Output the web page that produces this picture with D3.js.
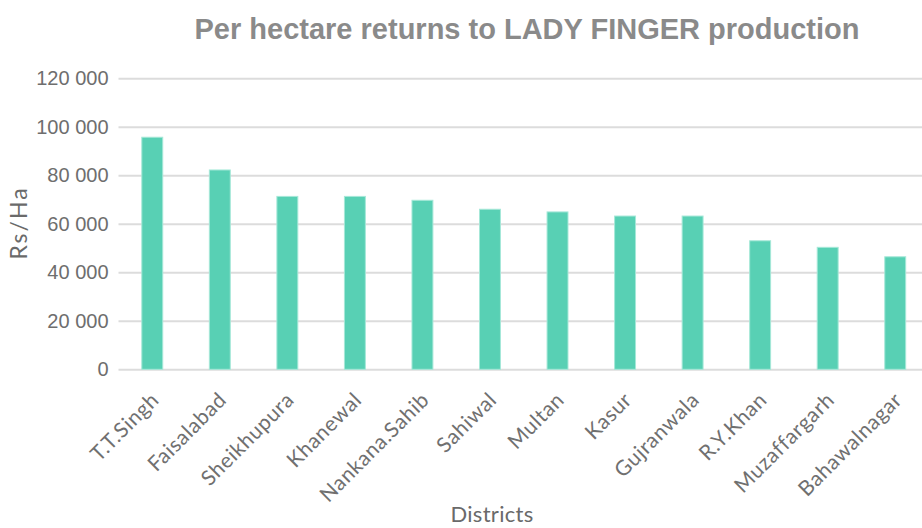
<!DOCTYPE html>
<html>
<head>
<meta charset="utf-8">
<script src="https://cdn.jsdelivr.net/npm/d3@7/dist/d3.min.js"></script>
<style>
  html, body { margin: 0; padding: 0; background: #fff; }
  svg { display: block; }
</style>
</head>
<body>
<svg id="chart" width="922" height="528"></svg>
<script>
// Per-hectare returns (Rs/Ha) for lady finger, by district
const districts = ["T.T.Singh", "Faisalabad", "Sheikhupura", "Khanewal", "Nankana.Sahib",
  "Sahiwal", "Multan", "Kasur", "Gujranwala", "R.Y.Khan", "Muzaffargarh", "Bahawalnagar"];
const returnsRsHa = [95700, 82200, 71300, 71300, 69700, 66000, 64900, 63200, 63200, 53000, 50300, 46400];
const yTicks = [0, 20000, 40000, 60000, 80000, 100000, 120000];

const titleText = "Per hectare returns to LADY FINGER production";
const xTitle = "Districts";
const yTitle = "Rs/Ha";

const svg = d3.select("#chart");
const W = 922, H = 528;
const plot = { left: 118.5, right: 929, top: 78.3, bottom: 369.3 };

const x = d3.scaleBand()
  .domain(districts)
  .range([plot.left, plot.right])
  .paddingInner(0.69)
  .paddingOuter(0.345);

const y = d3.scaleLinear()
  .domain([0, 120000])
  .range([plot.bottom, plot.top]);

const fmt = v => d3.format(",")(v).replace(/,/g, " ");

// horizontal gridlines and y tick labels
const yAxis = d3.axisLeft(y)
  .tickValues(yTicks)
  .tickSize(-(W - plot.left))
  .tickPadding(10)
  .tickFormat(fmt);

const gy = svg.append("g")
  .attr("transform", `translate(${plot.left},0)`)
  .call(yAxis);
gy.select(".domain").remove();
gy.selectAll(".tick line")
  .attr("stroke", "#dcdcdc")
  .attr("stroke-width", 2);
gy.selectAll(".tick text")
  .attr("fill", "#6e6e6e")
  .style("font-family", "'Liberation Sans', Arial, sans-serif")
  .style("font-size", "20px");

// bars
svg.append("g")
  .selectAll("rect")
  .data(districts.map((d, i) => ({ d, v: returnsRsHa[i] })))
  .join("rect")
  .attr("x", p => x(p.d))
  .attr("y", p => y(p.v))
  .attr("width", x.bandwidth())
  .attr("height", p => y(0) - y(p.v))
  .attr("fill", "#58d0b4")
  .attr("stroke", "#a6e8d8")
  .attr("stroke-width", 1);

// category labels, rotated
const gx = svg.append("g")
  .attr("transform", `translate(0,${plot.bottom})`)
  .call(d3.axisBottom(x).tickSize(0).tickPadding(0));
gx.select(".domain").remove();
gx.selectAll(".tick text")
  .attr("text-anchor", "end")
  .attr("dy", 0)
  .attr("y", 0)
  .attr("transform", "translate(8,32) rotate(-45)")
  .attr("fill", "#707070")
  .style("font-family", "Lato, 'Noto Sans', sans-serif")
  .style("font-size", "21px")
  .style("letter-spacing", "0.6px");

// axis titles
svg.append("text")
  .attr("x", 492)
  .attr("y", 522)
  .attr("text-anchor", "middle")
  .attr("fill", "#6a6a6a")
  .style("font-family", "Lato, 'Noto Sans', sans-serif")
  .style("font-size", "22px")
  .style("letter-spacing", "0.3px")
  .text(xTitle);

svg.append("text")
  .attr("transform", "translate(27,223) rotate(-90)")
  .attr("text-anchor", "middle")
  .attr("fill", "#6a6a6a")
  .style("font-family", "Lato, 'Noto Sans', sans-serif")
  .style("font-size", "23px")
  .style("letter-spacing", "2px")
  .text(yTitle);

// chart title
svg.append("text")
  .attr("x", 527)
  .attr("y", 39)
  .attr("text-anchor", "middle")
  .attr("fill", "#8a8a8a")
  .style("font-family", "'Liberation Sans', Arial, sans-serif")
  .style("font-weight", "bold")
  .style("font-size", "29px")
  .text(titleText);
</script>
</body>
</html>
